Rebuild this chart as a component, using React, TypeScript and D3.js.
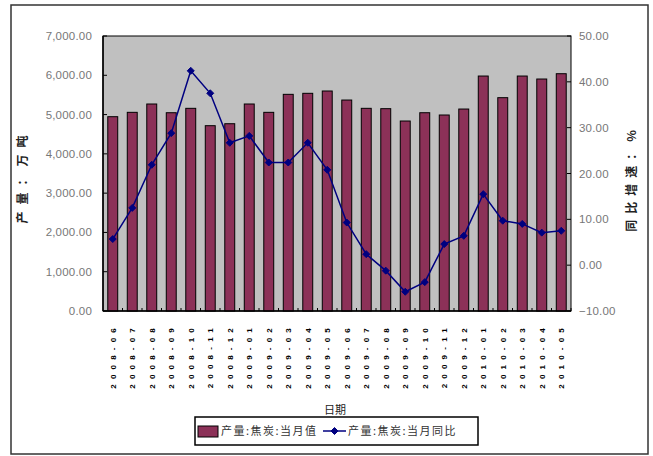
import React from "react";
import * as d3 from "d3";

const categories = [
  "2008-06", "2008-07", "2008-08", "2008-09", "2008-10", "2008-11", "2008-12",
  "2009-01", "2009-02", "2009-03", "2009-04", "2009-05", "2009-06", "2009-07",
  "2009-08", "2009-09", "2009-10", "2009-11", "2009-12", "2010-01", "2010-02",
  "2010-03", "2010-04", "2010-05",
];
const monthlyOutput = [
  4946, 5057, 5269, 5047, 5159, 4717, 4767, 5269, 5057, 5515, 5541, 5600,
  5370, 5159, 5150, 4836, 5047, 4989, 5141, 5981, 5430, 5981, 5905, 6040,
];
const yoyGrowth = [
  5.7, 12.5, 21.9, 28.8, 42.4, 37.5, 26.7, 28.2, 22.4, 22.4, 26.7, 20.8,
  9.3, 2.4, -1.2, -5.8, -3.7, 4.6, 6.4, 15.5, 9.7, 9.0, 7.1, 7.5,
];
const leftTicks = [0, 1000, 2000, 3000, 4000, 5000, 6000, 7000];
const rightTicks = [-10, 0, 10, 20, 30, 40, 50];
const seriesNames = ["产量:焦炭:当月值", "产量:焦炭:当月同比"];
const leftTitle = "产量：万吨";
const rightTitle = "同比增速：%";
const xTitle = "日期";

const W = 653, H = 456;
const PL = 103, PR = 571, PT = 36, PB = 311;
const BAR = "#8c3158";
const LINE = "#000080";
const FONT = "'Liberation Sans', Arial, sans-serif";
const CJK = "'Noto Sans CJK SC', sans-serif";

export default function App() {
  const x = d3.scaleBand<string>().domain(categories).range([PL, PR]).paddingInner(0.49).paddingOuter(0.245);
  const step = x.step();
  const yL = d3.scaleLinear().domain([0, 7000]).range([PB, PT]);
  const yR = d3.scaleLinear().domain([-10, 50]).range([PB, PT]);
  const cx = (c: string) => (x(c) as number) + x.bandwidth() / 2;
  const fmtL = d3.format(",.2f");
  const fmtR = d3.format(".2f");
  const line = d3.line<number>().x((_, i) => cx(categories[i])).y((d) => yR(d));
  const diamond = (px: number, py: number, r = 3.5) =>
    `M${px},${py - r}L${px + r},${py}L${px},${py + r}L${px - r},${py}Z`;

  return (
    <svg width={W} height={H} style={{ position: "absolute", left: 0, top: 0, background: "#fff" }}>
      <rect x={11} y={5} width={637} height={449} fill="#fff" stroke="#333" strokeWidth={1.5} />
      <rect x={PL} y={PT} width={PR - PL} height={PB - PT} fill="#c0c0c0" stroke="#000" strokeWidth={1} />
      {categories.map((c, i) => (
        <rect key={c} x={x(c)} y={yL(monthlyOutput[i])} width={x.bandwidth()}
          height={PB - yL(monthlyOutput[i])} fill={BAR} stroke="#000" strokeWidth={1} />
      ))}
      {categories.map((c, i) => (
        <line key={"xt" + i} x1={PL + step * (i + 1)} x2={PL + step * (i + 1)} y1={PB} y2={PB - 3} stroke="#000" />
      ))}
      {leftTicks.map((t) => (
        <g key={"l" + t}>
          <line x1={PL} x2={PL + 4} y1={yL(t)} y2={yL(t)} stroke="#000" />
          <text x={92} y={yL(t)} dy="0.35em" textAnchor="end" fontFamily={FONT} fontSize={11.5}
            letterSpacing={0.2} fill="#777">{fmtL(t)}</text>
        </g>
      ))}
      {rightTicks.map((t) => (
        <g key={"r" + t}>
          <line x1={PR - 4} x2={PR} y1={yR(t)} y2={yR(t)} stroke="#000" />
          <text x={579} y={yR(t)} dy="0.35em" textAnchor="start" fontFamily={FONT} fontSize={11.5}
            letterSpacing={0.2} fill="#777">{fmtR(t)}</text>
        </g>
      ))}
      <line x1={PL} x2={PL} y1={PT} y2={PB} stroke="#000" strokeWidth={1.5} />
      <line x1={PL} x2={PR} y1={PB} y2={PB} stroke="#000" strokeWidth={1.5} />
      <path d={line(yoyGrowth) || ""} fill="none" stroke={LINE} strokeWidth={1.5} />
      {yoyGrowth.map((v, i) => (
        <path key={"m" + i} d={diamond(cx(categories[i]), yR(v))} fill={LINE} stroke={LINE} />
      ))}
      {categories.map((c) => (
        <text key={"xl" + c} transform={`translate(${cx(c) + 3},323) rotate(-90)`} textAnchor="end"
          fontFamily={FONT} fontSize={8} fontWeight="bold" letterSpacing={5.2} fill="#000">{c}</text>
      ))}
      <text transform={`translate(27,176) rotate(-90)`} textAnchor="middle" fontFamily={CJK} fontSize={12}
        fontWeight="bold" letterSpacing={7} fill="#222">{leftTitle}</text>
      <text transform={`translate(636,178) rotate(-90)`} textAnchor="middle" fontFamily={CJK} fontSize={12}
        fontWeight="bold" letterSpacing={6} fill="#222">{rightTitle}</text>
      <text x={335} y={414} textAnchor="middle" fontFamily={CJK} fontSize={11} fill="#222">{xTitle}</text>
      <rect x={195} y={417} width={283} height={28} fill="#fff" stroke="#000" strokeWidth={1.5} />
      <rect x={198} y={426} width={20} height={11} fill={BAR} stroke="#000" strokeWidth={1} />
      <text x={221} y={431} dy="0.35em" fontFamily={CJK} fontSize={11} letterSpacing={1.5} fill="#333">{seriesNames[0]}</text>
      <line x1={323} x2={346} y1={431} y2={431} stroke={LINE} strokeWidth={1.5} />
      <path d={diamond(334.5, 431)} fill={LINE} stroke={LINE} />
      <text x={348} y={431} dy="0.35em" fontFamily={CJK} fontSize={11} letterSpacing={1.5} fill="#333">{seriesNames[1]}</text>
    </svg>
  );
}
